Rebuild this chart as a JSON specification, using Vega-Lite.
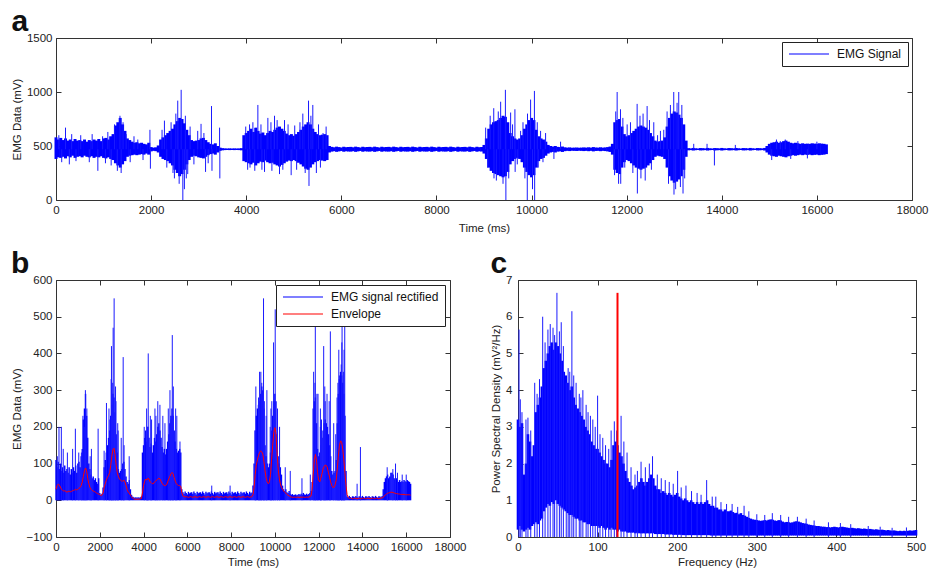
{
"$schema": "https://vega.github.io/schema/vega-lite/v6.json",
"background": "white",
"padding": {"left": 10, "top": 6, "right": 5, "bottom": 2},
"config": {
  "font": "Liberation Sans",
  "view": {"stroke": "#333333", "strokeWidth": 1},
  "axis": {"grid": false, "domain": false, "ticks": true, "tickSize": -5, "tickColor": "#333333", "tickWidth": 1, "labelFontSize": 11.5, "labelColor": "#222222", "labelPadding": 9, "labelOverlap": false, "labelFlush": false, "titleFontSize": 11.5, "titleFontWeight": "normal", "titleColor": "#222222", "titlePadding": 4},
  "title": {"fontSize": 30, "fontWeight": "bold", "anchor": "start", "frame": "bounds", "color": "#111111", "font": "Liberation Sans", "offset": -5},
  "legend": {"orient": "top-right", "offset": 4, "strokeColor": "#222222", "fillColor": "white", "padding": 6, "labelFontSize": 12, "labelColor": "#111111", "symbolType": "M-1,0H7", "symbolSize": 100, "symbolStrokeWidth": 1.2, "rowPadding": 5, "labelLimit": 300, "labelOffset": 37, "cornerRadius": 0}
},
"datasets": {
"sig": [
{"t":0,"lo":380,"hi":580,"r":110,"e":30},
{"t":50,"lo":395,"hi":560,"r":90,"e":40},
{"t":100,"lo":390,"hi":575,"r":105,"e":44},
{"t":150,"lo":400,"hi":555,"r":85,"e":42},
{"t":200,"lo":385,"hi":570,"r":100,"e":36},
{"t":250,"lo":405,"hi":550,"r":80,"e":30},
{"t":300,"lo":395,"hi":560,"r":90,"e":27},
{"t":350,"lo":410,"hi":545,"r":75,"e":25},
{"t":400,"lo":390,"hi":565,"r":95,"e":26},
{"t":450,"lo":400,"hi":550,"r":80,"e":24},
{"t":500,"lo":405,"hi":555,"r":85,"e":22},
{"t":550,"lo":395,"hi":545,"r":75,"e":24},
{"t":600,"lo":410,"hi":560,"r":90,"e":25},
{"t":650,"lo":400,"hi":540,"r":70,"e":23},
{"t":700,"lo":395,"hi":555,"r":85,"e":24},
{"t":750,"lo":405,"hi":545,"r":75,"e":26},
{"t":800,"lo":390,"hi":560,"r":90,"e":27},
{"t":850,"lo":400,"hi":550,"r":80,"e":28},
{"t":900,"lo":395,"hi":565,"r":95,"e":30},
{"t":950,"lo":405,"hi":545,"r":75,"e":28},
{"t":1000,"lo":390,"hi":570,"r":100,"e":30},
{"t":1050,"lo":385,"hi":575,"r":105,"e":33},
{"t":1100,"lo":395,"hi":560,"r":90,"e":35},
{"t":1150,"lo":380,"hi":590,"r":120,"e":40},
{"t":1200,"lo":370,"hi":610,"r":140,"e":50},
{"t":1250,"lo":340,"hi":690,"r":220,"e":65},
{"t":1300,"lo":320,"hi":720,"r":250,"e":80},
{"t":1350,"lo":300,"hi":760,"r":290,"e":88},
{"t":1400,"lo":330,"hi":700,"r":230,"e":80},
{"t":1450,"lo":360,"hi":640,"r":170,"e":60},
{"t":1500,"lo":400,"hi":570,"r":100,"e":45},
{"t":1550,"lo":410,"hi":555,"r":85,"e":35},
{"t":1600,"lo":415,"hi":540,"r":70,"e":30},
{"t":1650,"lo":420,"hi":530,"r":60,"e":27},
{"t":1700,"lo":415,"hi":535,"r":65,"e":25},
{"t":1750,"lo":420,"hi":525,"r":55,"e":24},
{"t":1800,"lo":425,"hi":530,"r":60,"e":22},
{"t":1850,"lo":420,"hi":520,"r":50,"e":20},
{"t":1900,"lo":430,"hi":515,"r":45,"e":18},
{"t":1950,"lo":420,"hi":530,"r":60,"e":17},
{"t":2000,"lo":450,"hi":490,"r":20,"e":15},
{"t":2050,"lo":455,"hi":485,"r":15,"e":13},
{"t":2100,"lo":452,"hi":488,"r":18,"e":14},
{"t":2150,"lo":440,"hi":505,"r":35,"e":20},
{"t":2200,"lo":400,"hi":560,"r":90,"e":35},
{"t":2250,"lo":380,"hi":580,"r":110,"e":45},
{"t":2300,"lo":370,"hi":600,"r":130,"e":55},
{"t":2350,"lo":360,"hi":620,"r":150,"e":62},
{"t":2400,"lo":340,"hi":640,"r":170,"e":68},
{"t":2450,"lo":320,"hi":660,"r":190,"e":75},
{"t":2500,"lo":280,"hi":700,"r":230,"e":95},
{"t":2550,"lo":250,"hi":730,"r":260,"e":120},
{"t":2600,"lo":220,"hi":760,"r":290,"e":138},
{"t":2650,"lo":240,"hi":750,"r":280,"e":142},
{"t":2700,"lo":280,"hi":710,"r":240,"e":125},
{"t":2750,"lo":330,"hi":650,"r":180,"e":95},
{"t":2800,"lo":370,"hi":600,"r":130,"e":75},
{"t":2850,"lo":400,"hi":555,"r":85,"e":65},
{"t":2900,"lo":410,"hi":545,"r":75,"e":58},
{"t":2950,"lo":405,"hi":550,"r":80,"e":55},
{"t":3000,"lo":395,"hi":555,"r":85,"e":52},
{"t":3050,"lo":390,"hi":570,"r":100,"e":52},
{"t":3100,"lo":385,"hi":575,"r":105,"e":55},
{"t":3150,"lo":400,"hi":555,"r":85,"e":50},
{"t":3200,"lo":415,"hi":535,"r":65,"e":40},
{"t":3250,"lo":425,"hi":520,"r":50,"e":30},
{"t":3300,"lo":430,"hi":515,"r":45,"e":22},
{"t":3350,"lo":420,"hi":525,"r":55,"e":20},
{"t":3400,"lo":440,"hi":500,"r":30,"e":14},
{"t":3450,"lo":455,"hi":485,"r":15,"e":10},
{"t":3500,"lo":460,"hi":480,"r":10,"e":6},
{"t":3550,"lo":462,"hi":478,"r":8,"e":4},
{"t":3600,"lo":463,"hi":477,"r":7,"e":3},
{"t":3650,"lo":462,"hi":478,"r":8,"e":3},
{"t":3700,"lo":463,"hi":477,"r":7,"e":3},
{"t":3750,"lo":462,"hi":478,"r":8,"e":3},
{"t":3800,"lo":463,"hi":477,"r":7,"e":3},
{"t":3850,"lo":462,"hi":478,"r":8,"e":4},
{"t":3900,"lo":460,"hi":480,"r":10,"e":5},
{"t":3950,"lo":360,"hi":600,"r":130,"e":20},
{"t":4000,"lo":350,"hi":620,"r":150,"e":40},
{"t":4050,"lo":340,"hi":640,"r":170,"e":52},
{"t":4100,"lo":330,"hi":660,"r":190,"e":58},
{"t":4150,"lo":345,"hi":630,"r":160,"e":55},
{"t":4200,"lo":320,"hi":670,"r":200,"e":60},
{"t":4250,"lo":340,"hi":640,"r":170,"e":58},
{"t":4300,"lo":355,"hi":615,"r":145,"e":50},
{"t":4350,"lo":350,"hi":625,"r":155,"e":48},
{"t":4400,"lo":365,"hi":600,"r":130,"e":45},
{"t":4450,"lo":350,"hi":620,"r":150,"e":45},
{"t":4500,"lo":340,"hi":640,"r":170,"e":50},
{"t":4550,"lo":345,"hi":630,"r":160,"e":52},
{"t":4600,"lo":330,"hi":650,"r":180,"e":55},
{"t":4650,"lo":320,"hi":670,"r":200,"e":58},
{"t":4700,"lo":310,"hi":680,"r":210,"e":60},
{"t":4750,"lo":325,"hi":660,"r":190,"e":58},
{"t":4800,"lo":340,"hi":640,"r":170,"e":52},
{"t":4850,"lo":355,"hi":615,"r":145,"e":46},
{"t":4900,"lo":365,"hi":600,"r":130,"e":42},
{"t":4950,"lo":360,"hi":610,"r":140,"e":40},
{"t":5000,"lo":370,"hi":595,"r":125,"e":40},
{"t":5050,"lo":360,"hi":610,"r":140,"e":42},
{"t":5100,"lo":345,"hi":630,"r":160,"e":50},
{"t":5150,"lo":330,"hi":650,"r":180,"e":58},
{"t":5200,"lo":310,"hi":680,"r":210,"e":65},
{"t":5250,"lo":290,"hi":700,"r":230,"e":72},
{"t":5300,"lo":280,"hi":720,"r":250,"e":76},
{"t":5350,"lo":300,"hi":700,"r":230,"e":72},
{"t":5400,"lo":330,"hi":660,"r":190,"e":62},
{"t":5450,"lo":350,"hi":630,"r":160,"e":52},
{"t":5500,"lo":360,"hi":610,"r":140,"e":45},
{"t":5550,"lo":370,"hi":600,"r":130,"e":42},
{"t":5600,"lo":365,"hi":605,"r":135,"e":40},
{"t":5650,"lo":360,"hi":610,"r":140,"e":40},
{"t":5700,"lo":370,"hi":600,"r":130,"e":38},
{"t":5750,"lo":440,"hi":500,"r":30,"e":20},
{"t":5800,"lo":448,"hi":492,"r":22,"e":12},
{"t":5850,"lo":452,"hi":488,"r":18,"e":10},
{"t":5900,"lo":446,"hi":494,"r":24,"e":9},
{"t":5950,"lo":450,"hi":490,"r":20,"e":10},
{"t":6000,"lo":454,"hi":486,"r":16,"e":9},
{"t":6050,"lo":447,"hi":493,"r":23,"e":8},
{"t":6100,"lo":451,"hi":489,"r":19,"e":9},
{"t":6150,"lo":449,"hi":491,"r":21,"e":10},
{"t":6200,"lo":448,"hi":492,"r":22,"e":9},
{"t":6250,"lo":452,"hi":488,"r":18,"e":8},
{"t":6300,"lo":446,"hi":494,"r":24,"e":9},
{"t":6350,"lo":450,"hi":490,"r":20,"e":10},
{"t":6400,"lo":454,"hi":486,"r":16,"e":9},
{"t":6450,"lo":447,"hi":493,"r":23,"e":8},
{"t":6500,"lo":451,"hi":489,"r":19,"e":9},
{"t":6550,"lo":449,"hi":491,"r":21,"e":10},
{"t":6600,"lo":448,"hi":492,"r":22,"e":9},
{"t":6650,"lo":452,"hi":488,"r":18,"e":8},
{"t":6700,"lo":446,"hi":494,"r":24,"e":9},
{"t":6750,"lo":450,"hi":490,"r":20,"e":10},
{"t":6800,"lo":454,"hi":486,"r":16,"e":9},
{"t":6850,"lo":447,"hi":493,"r":23,"e":8},
{"t":6900,"lo":451,"hi":489,"r":19,"e":9},
{"t":6950,"lo":449,"hi":491,"r":21,"e":10},
{"t":7000,"lo":448,"hi":492,"r":22,"e":9},
{"t":7050,"lo":452,"hi":488,"r":18,"e":8},
{"t":7100,"lo":446,"hi":494,"r":24,"e":9},
{"t":7150,"lo":450,"hi":490,"r":20,"e":10},
{"t":7200,"lo":454,"hi":486,"r":16,"e":9},
{"t":7250,"lo":447,"hi":493,"r":23,"e":8},
{"t":7300,"lo":451,"hi":489,"r":19,"e":9},
{"t":7350,"lo":449,"hi":491,"r":21,"e":10},
{"t":7400,"lo":448,"hi":492,"r":22,"e":9},
{"t":7450,"lo":452,"hi":488,"r":18,"e":8},
{"t":7500,"lo":446,"hi":494,"r":24,"e":9},
{"t":7550,"lo":450,"hi":490,"r":20,"e":10},
{"t":7600,"lo":454,"hi":486,"r":16,"e":9},
{"t":7650,"lo":447,"hi":493,"r":23,"e":8},
{"t":7700,"lo":451,"hi":489,"r":19,"e":9},
{"t":7750,"lo":449,"hi":491,"r":21,"e":10},
{"t":7800,"lo":448,"hi":492,"r":22,"e":9},
{"t":7850,"lo":452,"hi":488,"r":18,"e":8},
{"t":7900,"lo":446,"hi":494,"r":24,"e":9},
{"t":7950,"lo":450,"hi":490,"r":20,"e":10},
{"t":8000,"lo":454,"hi":486,"r":16,"e":9},
{"t":8050,"lo":447,"hi":493,"r":23,"e":8},
{"t":8100,"lo":451,"hi":489,"r":19,"e":9},
{"t":8150,"lo":449,"hi":491,"r":21,"e":10},
{"t":8200,"lo":448,"hi":492,"r":22,"e":9},
{"t":8250,"lo":452,"hi":488,"r":18,"e":8},
{"t":8300,"lo":446,"hi":494,"r":24,"e":9},
{"t":8350,"lo":450,"hi":490,"r":20,"e":10},
{"t":8400,"lo":454,"hi":486,"r":16,"e":9},
{"t":8450,"lo":447,"hi":493,"r":23,"e":8},
{"t":8500,"lo":451,"hi":489,"r":19,"e":9},
{"t":8550,"lo":449,"hi":491,"r":21,"e":10},
{"t":8600,"lo":448,"hi":492,"r":22,"e":9},
{"t":8650,"lo":452,"hi":488,"r":18,"e":8},
{"t":8700,"lo":446,"hi":494,"r":24,"e":9},
{"t":8750,"lo":450,"hi":490,"r":20,"e":10},
{"t":8800,"lo":454,"hi":486,"r":16,"e":9},
{"t":8850,"lo":447,"hi":493,"r":23,"e":8},
{"t":8900,"lo":451,"hi":489,"r":19,"e":9},
{"t":8950,"lo":449,"hi":491,"r":21,"e":10},
{"t":9000,"lo":430,"hi":510,"r":40,"e":15},
{"t":9050,"lo":380,"hi":570,"r":100,"e":35},
{"t":9100,"lo":300,"hi":660,"r":190,"e":70},
{"t":9150,"lo":270,"hi":700,"r":230,"e":95},
{"t":9200,"lo":250,"hi":720,"r":250,"e":110},
{"t":9250,"lo":240,"hi":730,"r":260,"e":122},
{"t":9300,"lo":230,"hi":740,"r":270,"e":130},
{"t":9350,"lo":220,"hi":760,"r":290,"e":135},
{"t":9400,"lo":210,"hi":780,"r":310,"e":132},
{"t":9450,"lo":220,"hi":770,"r":300,"e":125},
{"t":9500,"lo":260,"hi":720,"r":250,"e":105},
{"t":9550,"lo":330,"hi":620,"r":150,"e":80},
{"t":9600,"lo":360,"hi":590,"r":120,"e":60},
{"t":9650,"lo":380,"hi":570,"r":100,"e":50},
{"t":9700,"lo":390,"hi":560,"r":90,"e":45},
{"t":9750,"lo":380,"hi":570,"r":100,"e":50},
{"t":9800,"lo":350,"hi":600,"r":130,"e":70},
{"t":9850,"lo":300,"hi":660,"r":190,"e":110},
{"t":9900,"lo":260,"hi":700,"r":230,"e":150},
{"t":9950,"lo":230,"hi":740,"r":270,"e":185},
{"t":10000,"lo":210,"hi":760,"r":290,"e":198},
{"t":10050,"lo":230,"hi":740,"r":270,"e":180},
{"t":10100,"lo":300,"hi":650,"r":180,"e":130},
{"t":10150,"lo":360,"hi":590,"r":120,"e":85},
{"t":10200,"lo":380,"hi":570,"r":100,"e":60},
{"t":10250,"lo":390,"hi":560,"r":90,"e":45},
{"t":10300,"lo":410,"hi":540,"r":70,"e":35},
{"t":10350,"lo":430,"hi":510,"r":40,"e":30},
{"t":10400,"lo":440,"hi":500,"r":30,"e":25},
{"t":10450,"lo":445,"hi":495,"r":25,"e":22},
{"t":10500,"lo":440,"hi":500,"r":30,"e":20},
{"t":10550,"lo":448,"hi":492,"r":22,"e":16},
{"t":10600,"lo":450,"hi":490,"r":20,"e":14},
{"t":10650,"lo":445,"hi":495,"r":25,"e":12},
{"t":10700,"lo":452,"hi":488,"r":18,"e":10},
{"t":10750,"lo":455,"hi":485,"r":15,"e":9},
{"t":10800,"lo":453,"hi":487,"r":17,"e":8},
{"t":10850,"lo":456,"hi":484,"r":14,"e":8},
{"t":10900,"lo":455,"hi":485,"r":15,"e":9},
{"t":10950,"lo":454,"hi":486,"r":16,"e":8},
{"t":11000,"lo":456,"hi":484,"r":14,"e":8},
{"t":11050,"lo":455,"hi":485,"r":15,"e":9},
{"t":11100,"lo":453,"hi":487,"r":17,"e":8},
{"t":11150,"lo":455,"hi":485,"r":15,"e":8},
{"t":11200,"lo":452,"hi":488,"r":18,"e":9},
{"t":11250,"lo":455,"hi":485,"r":15,"e":8},
{"t":11300,"lo":450,"hi":490,"r":20,"e":9},
{"t":11350,"lo":454,"hi":486,"r":16,"e":8},
{"t":11400,"lo":455,"hi":485,"r":15,"e":8},
{"t":11450,"lo":452,"hi":488,"r":18,"e":9},
{"t":11500,"lo":455,"hi":485,"r":15,"e":8},
{"t":11550,"lo":453,"hi":487,"r":17,"e":9},
{"t":11600,"lo":450,"hi":490,"r":20,"e":10},
{"t":11650,"lo":445,"hi":495,"r":25,"e":12},
{"t":11700,"lo":420,"hi":520,"r":50,"e":30},
{"t":11750,"lo":280,"hi":720,"r":250,"e":70},
{"t":11800,"lo":250,"hi":740,"r":270,"e":110},
{"t":11850,"lo":240,"hi":750,"r":280,"e":125},
{"t":11900,"lo":300,"hi":680,"r":210,"e":110},
{"t":11950,"lo":350,"hi":610,"r":140,"e":75},
{"t":12000,"lo":370,"hi":590,"r":120,"e":55},
{"t":12050,"lo":360,"hi":600,"r":130,"e":50},
{"t":12100,"lo":340,"hi":620,"r":150,"e":60},
{"t":12150,"lo":320,"hi":640,"r":170,"e":72},
{"t":12200,"lo":300,"hi":660,"r":190,"e":85},
{"t":12250,"lo":290,"hi":680,"r":210,"e":92},
{"t":12300,"lo":280,"hi":690,"r":220,"e":96},
{"t":12350,"lo":290,"hi":680,"r":210,"e":95},
{"t":12400,"lo":300,"hi":670,"r":200,"e":88},
{"t":12450,"lo":320,"hi":650,"r":180,"e":75},
{"t":12500,"lo":340,"hi":620,"r":150,"e":62},
{"t":12550,"lo":370,"hi":590,"r":120,"e":50},
{"t":12600,"lo":400,"hi":550,"r":80,"e":40},
{"t":12650,"lo":410,"hi":540,"r":70,"e":35},
{"t":12700,"lo":405,"hi":545,"r":75,"e":35},
{"t":12750,"lo":400,"hi":550,"r":80,"e":42},
{"t":12800,"lo":380,"hi":580,"r":110,"e":55},
{"t":12850,"lo":300,"hi":680,"r":210,"e":85},
{"t":12900,"lo":220,"hi":760,"r":290,"e":120},
{"t":12950,"lo":180,"hi":800,"r":330,"e":150},
{"t":13000,"lo":160,"hi":820,"r":350,"e":162},
{"t":13050,"lo":170,"hi":810,"r":340,"e":158},
{"t":13100,"lo":190,"hi":790,"r":320,"e":140},
{"t":13150,"lo":220,"hi":760,"r":290,"e":110},
{"t":13200,"lo":280,"hi":700,"r":230,"e":75},
{"t":13250,"lo":400,"hi":550,"r":80,"e":40},
{"t":13300,"lo":460,"hi":480,"r":10,"e":15},
{"t":13350,"lo":462,"hi":478,"r":8,"e":8},
{"t":13400,"lo":458,"hi":482,"r":12,"e":5},
{"t":13450,"lo":461,"hi":479,"r":9,"e":6},
{"t":13500,"lo":463,"hi":477,"r":7,"e":5},
{"t":13550,"lo":459,"hi":481,"r":11,"e":4},
{"t":13600,"lo":460,"hi":480,"r":10,"e":5},
{"t":13650,"lo":462,"hi":478,"r":8,"e":6},
{"t":13700,"lo":458,"hi":482,"r":12,"e":5},
{"t":13750,"lo":461,"hi":479,"r":9,"e":4},
{"t":13800,"lo":463,"hi":477,"r":7,"e":5},
{"t":13850,"lo":459,"hi":481,"r":11,"e":6},
{"t":13900,"lo":460,"hi":480,"r":10,"e":5},
{"t":13950,"lo":462,"hi":478,"r":8,"e":4},
{"t":14000,"lo":458,"hi":482,"r":12,"e":5},
{"t":14050,"lo":461,"hi":479,"r":9,"e":6},
{"t":14100,"lo":463,"hi":477,"r":7,"e":5},
{"t":14150,"lo":459,"hi":481,"r":11,"e":4},
{"t":14200,"lo":460,"hi":480,"r":10,"e":5},
{"t":14250,"lo":462,"hi":478,"r":8,"e":6},
{"t":14300,"lo":458,"hi":482,"r":12,"e":5},
{"t":14350,"lo":461,"hi":479,"r":9,"e":4},
{"t":14400,"lo":463,"hi":477,"r":7,"e":5},
{"t":14450,"lo":459,"hi":481,"r":11,"e":6},
{"t":14500,"lo":460,"hi":480,"r":10,"e":5},
{"t":14550,"lo":462,"hi":478,"r":8,"e":4},
{"t":14600,"lo":458,"hi":482,"r":12,"e":5},
{"t":14650,"lo":461,"hi":479,"r":9,"e":6},
{"t":14700,"lo":463,"hi":477,"r":7,"e":5},
{"t":14750,"lo":459,"hi":481,"r":11,"e":4},
{"t":14800,"lo":460,"hi":480,"r":10,"e":5},
{"t":14850,"lo":462,"hi":478,"r":8,"e":6},
{"t":14900,"lo":458,"hi":482,"r":12,"e":7},
{"t":14950,"lo":440,"hi":500,"r":30,"e":8},
{"t":15000,"lo":420,"hi":520,"r":50,"e":12},
{"t":15050,"lo":410,"hi":530,"r":60,"e":15},
{"t":15100,"lo":405,"hi":535,"r":65,"e":17},
{"t":15150,"lo":400,"hi":540,"r":70,"e":19},
{"t":15200,"lo":410,"hi":530,"r":60,"e":20},
{"t":15250,"lo":405,"hi":535,"r":65,"e":21},
{"t":15300,"lo":400,"hi":545,"r":75,"e":22},
{"t":15350,"lo":395,"hi":550,"r":75,"e":22},
{"t":15400,"lo":405,"hi":540,"r":70,"e":21},
{"t":15450,"lo":410,"hi":530,"r":60,"e":20},
{"t":15500,"lo":415,"hi":525,"r":55,"e":19},
{"t":15550,"lo":410,"hi":530,"r":60,"e":18},
{"t":15600,"lo":415,"hi":525,"r":55,"e":18},
{"t":15650,"lo":420,"hi":520,"r":50,"e":17},
{"t":15700,"lo":415,"hi":525,"r":55,"e":17},
{"t":15750,"lo":420,"hi":520,"r":50,"e":16},
{"t":15800,"lo":418,"hi":522,"r":52,"e":16},
{"t":15850,"lo":420,"hi":520,"r":50,"e":16},
{"t":15900,"lo":415,"hi":525,"r":55,"e":16},
{"t":15950,"lo":418,"hi":522,"r":52,"e":15},
{"t":16000,"lo":420,"hi":520,"r":50,"e":15},
{"t":16050,"lo":415,"hi":525,"r":55,"e":15},
{"t":16100,"lo":418,"hi":522,"r":52,"e":15},
{"t":16150,"lo":420,"hi":520,"r":50,"e":15},
{"t":16200,"lo":425,"hi":515,"r":45,"e":14}
],
"spA": [
{"t":200,"v":670},{"t":280,"v":330},{"t":880,"v":270},{"t":1090,"v":630},{"t":1160,"v":320},{"t":1345,"v":780},{"t":1370,"v":250},{"t":1475,"v":610},{"t":1720,"v":560},{"t":1975,"v":650},{"t":1985,"v":290},{"t":2280,"v":735},{"t":2490,"v":200},{"t":2560,"v":920},{"t":2632,"v":1020},{"t":2667,"v":0},{"t":2700,"v":100},{"t":2770,"v":240},{"t":3050,"v":705},{"t":3145,"v":260},{"t":3270,"v":870},{"t":3280,"v":270},{"t":3440,"v":670},{"t":3445,"v":200},{"t":4070,"v":700},{"t":4080,"v":300},{"t":4245,"v":880},{"t":4385,"v":260},{"t":4455,"v":760},{"t":4595,"v":780},{"t":4700,"v":240},{"t":4805,"v":740},{"t":4945,"v":230},{"t":5190,"v":800},{"t":5310,"v":920},{"t":5320,"v":130},{"t":5400,"v":880},{"t":5475,"v":250},{"t":5615,"v":620},{"t":9035,"v":670},{"t":9205,"v":850},{"t":9210,"v":200},{"t":9350,"v":910},{"t":9450,"v":1020},{"t":9460,"v":0},{"t":9560,"v":810},{"t":9650,"v":840},{"t":9655,"v":260},{"t":9770,"v":640},{"t":9910,"v":0},{"t":9915,"v":800},{"t":9980,"v":930},{"t":10060,"v":1010},{"t":10065,"v":0},{"t":10190,"v":640},{"t":10295,"v":620},{"t":10470,"v":380},{"t":10610,"v":540},{"t":11745,"v":230},{"t":11800,"v":1000},{"t":11870,"v":840},{"t":11875,"v":150},{"t":12010,"v":700},{"t":12220,"v":890},{"t":12225,"v":60},{"t":12345,"v":800},{"t":12430,"v":870},{"t":12570,"v":720},{"t":12710,"v":640},{"t":12850,"v":820},{"t":12990,"v":1000},{"t":12995,"v":50},{"t":13095,"v":1000},{"t":13185,"v":60},{"t":13410,"v":520},{"t":13690,"v":520},{"t":13845,"v":320},{"t":14285,"v":510},{"t":15230,"v":545},{"t":15335,"v":560},
{"t":60,"v":600},{"t":120,"v":350},{"t":330,"v":610},{"t":420,"v":360},{"t":520,"v":600},{"t":700,"v":350},{"t":760,"v":610},{"t":980,"v":590},{"t":1040,"v":340},{"t":1230,"v":700},{"t":1290,"v":270},{"t":1410,"v":720},{"t":1560,"v":350},{"t":1640,"v":590},{"t":1830,"v":370},
{"t":2230,"v":650},{"t":2330,"v":300},{"t":2420,"v":720},{"t":2460,"v":250},{"t":2520,"v":800},{"t":2590,"v":150},{"t":2720,"v":780},{"t":2740,"v":200},{"t":2820,"v":680},{"t":2900,"v":330},{"t":2980,"v":640},{"t":3110,"v":620},{"t":3200,"v":340},
{"t":3990,"v":680},{"t":4030,"v":280},{"t":4140,"v":720},{"t":4180,"v":270},{"t":4310,"v":700},{"t":4330,"v":280},{"t":4520,"v":720},{"t":4540,"v":270},{"t":4650,"v":740},{"t":4770,"v":280},{"t":4880,"v":700},{"t":5020,"v":690},{"t":5060,"v":280},{"t":5130,"v":720},{"t":5240,"v":250},{"t":5360,"v":780},{"t":5520,"v":700},{"t":5560,"v":300},{"t":5680,"v":680},
{"t":9080,"v":300},{"t":9130,"v":780},{"t":9260,"v":180},{"t":9300,"v":820},{"t":9400,"v":150},{"t":9520,"v":200},{"t":9600,"v":700},{"t":9700,"v":330},{"t":9820,"v":720},{"t":9860,"v":200},{"t":10020,"v":100},{"t":10120,"v":720},{"t":10140,"v":300},{"t":10240,"v":350},
{"t":11770,"v":820},{"t":11830,"v":150},{"t":11920,"v":760},{"t":11960,"v":300},{"t":12080,"v":720},{"t":12130,"v":250},{"t":12280,"v":780},{"t":12300,"v":200},{"t":12390,"v":180},{"t":12480,"v":740},{"t":12520,"v":280},{"t":12650,"v":600},{"t":12780,"v":650},{"t":12880,"v":150},{"t":12920,"v":880},{"t":13030,"v":100},{"t":13060,"v":900},{"t":13130,"v":120},{"t":13160,"v":880},{"t":13220,"v":200},
{"t":15050,"v":370},{"t":15150,"v":560},{"t":15450,"v":380},{"t":15600,"v":545},{"t":15800,"v":385},{"t":16000,"v":540}
],
"spB": [
{"t":60,"r":120},{"t":137,"r":200},{"t":244,"r":200},{"t":885,"r":195},{"t":1160,"r":130},{"t":1343,"r":300},{"t":1618,"r":140},{"t":1924,"r":195},{"t":2198,"r":135},{"t":2305,"r":265},{"t":2534,"r":420},{"t":2611,"r":470},{"t":2656,"r":550},{"t":2840,"r":190},{"t":3069,"r":390},{"t":3344,"r":120},{"t":4031,"r":200},{"t":4214,"r":400},{"t":4366,"r":220},{"t":4565,"r":230},{"t":4748,"r":260},{"t":4977,"r":210},{"t":5206,"r":300},{"t":5313,"r":450},{"t":5466,"r":250},{"t":5664,"r":160},{"t":7115,"r":40},{"t":7954,"r":40},{"t":9099,"r":190},{"t":9252,"r":280},{"t":9359,"r":350},{"t":9481,"r":550},{"t":9634,"r":300},{"t":9786,"r":200},{"t":9939,"r":430},{"t":10015,"r":520},{"t":10214,"r":200},{"t":10473,"r":90},{"t":10702,"r":80},{"t":11237,"r":60},{"t":11618,"r":70},{"t":11847,"r":480},{"t":11969,"r":290},{"t":12076,"r":200},{"t":12229,"r":420},{"t":12382,"r":290},{"t":12534,"r":460},{"t":12687,"r":210},{"t":12840,"r":280},{"t":12947,"r":340},{"t":13069,"r":520},{"t":13191,"r":520},{"t":13756,"r":45},{"t":13908,"r":145},{"t":15130,"r":90},{"t":15389,"r":85},{"t":15511,"r":100},{"t":15817,"r":70},
{"t":330,"r":140},{"t":520,"r":130},{"t":760,"r":140},{"t":1040,"r":130},{"t":1230,"r":230},{"t":1290,"r":200},{"t":1410,"r":250},{"t":1560,"r":120},{"t":2420,"r":250},{"t":2460,"r":220},{"t":2520,"r":330},{"t":2590,"r":320},{"t":2720,"r":310},{"t":2740,"r":270},{"t":2820,"r":210},{"t":2980,"r":170},{"t":3110,"r":150},{"t":4140,"r":250},{"t":4180,"r":200},{"t":4310,"r":230},{"t":4520,"r":250},{"t":4650,"r":270},{"t":4880,"r":230},{"t":5130,"r":250},{"t":5240,"r":220},{"t":5360,"r":310},{"t":5520,"r":230},{"t":9130,"r":310},{"t":9300,"r":350},{"t":9400,"r":320},{"t":9520,"r":270},{"t":9600,"r":230},{"t":9820,"r":250},{"t":9860,"r":270},{"t":10120,"r":250},{"t":11770,"r":350},{"t":11830,"r":320},{"t":11920,"r":290},{"t":12080,"r":250},{"t":12130,"r":220},{"t":12280,"r":310},{"t":12300,"r":270},{"t":12480,"r":270},{"t":12780,"r":180},{"t":12880,"r":320},{"t":12920,"r":410},{"t":13030,"r":370},{"t":13060,"r":430},{"t":13130,"r":350},{"t":13160,"r":410},{"t":15150,"r":60},{"t":15600,"r":75},{"t":16000,"r":70}
],
"psd": [
{"f":0,"lo":0.2,"hi":3.2},{"f":2.5,"lo":0.3,"hi":3.0},{"f":5,"lo":0.2,"hi":3.1},{"f":7.5,"lo":0.15,"hi":1.7},{"f":10,"lo":0.2,"hi":2.0},{"f":12.5,"lo":0.25,"hi":2.8},{"f":15,"lo":0.2,"hi":2.6},{"f":17.5,"lo":0.3,"hi":2.2},{"f":20,"lo":0.35,"hi":2.5},{"f":22.5,"lo":0.4,"hi":3.4},{"f":25,"lo":0.35,"hi":3.6},{"f":27.5,"lo":0.45,"hi":3.8},{"f":30,"lo":0.5,"hi":4.1},{"f":32.5,"lo":0.7,"hi":4.6},{"f":35,"lo":0.8,"hi":4.8},{"f":37.5,"lo":0.9,"hi":5.0},{"f":40,"lo":0.85,"hi":5.2},{"f":42.5,"lo":0.95,"hi":5.3},{"f":45,"lo":0.9,"hi":5.1},{"f":47.5,"lo":1.0,"hi":5.3},{"f":50,"lo":0.9,"hi":5.2},{"f":52.5,"lo":0.85,"hi":5.0},{"f":55,"lo":0.8,"hi":4.8},{"f":57.5,"lo":0.75,"hi":4.5},{"f":60,"lo":0.7,"hi":4.4},{"f":62.5,"lo":0.65,"hi":4.2},{"f":65,"lo":0.6,"hi":4.0},{"f":67.5,"lo":0.6,"hi":4.1},{"f":70,"lo":0.55,"hi":3.8},{"f":72.5,"lo":0.5,"hi":3.6},{"f":75,"lo":0.5,"hi":3.5},{"f":77.5,"lo":0.45,"hi":3.4},{"f":80,"lo":0.45,"hi":3.3},{"f":82.5,"lo":0.4,"hi":3.2},{"f":85,"lo":0.4,"hi":3.0},{"f":87.5,"lo":0.35,"hi":2.9},{"f":90,"lo":0.35,"hi":2.8},{"f":92.5,"lo":0.3,"hi":2.6},{"f":95,"lo":0.3,"hi":2.5},{"f":97.5,"lo":0.3,"hi":2.4},{"f":100,"lo":0.3,"hi":2.4},{"f":102.5,"lo":0.25,"hi":2.3},{"f":105,"lo":0.3,"hi":2.2},{"f":107.5,"lo":0.25,"hi":2.1},{"f":110,"lo":0.2,"hi":2.0},{"f":112.5,"lo":0.25,"hi":2.0},{"f":115,"lo":0.2,"hi":1.9},{"f":117.5,"lo":0.25,"hi":2.1},{"f":120,"lo":0.2,"hi":2.5},{"f":122.5,"lo":0.2,"hi":2.6},{"f":125,"lo":0.15,"hi":2.5},{"f":127.5,"lo":0.2,"hi":2.3},{"f":130,"lo":0.15,"hi":2.2},{"f":132.5,"lo":0.15,"hi":2.0},{"f":135,"lo":0.15,"hi":1.8},{"f":137.5,"lo":0.12,"hi":1.6},{"f":140,"lo":0.12,"hi":1.5},{"f":142.5,"lo":0.12,"hi":1.4},{"f":145,"lo":0.12,"hi":1.3},{"f":147.5,"lo":0.1,"hi":1.35},{"f":150,"lo":0.12,"hi":1.4},{"f":152.5,"lo":0.1,"hi":1.5},{"f":155,"lo":0.1,"hi":1.6},{"f":157.5,"lo":0.1,"hi":1.5},{"f":160,"lo":0.1,"hi":1.4},{"f":162.5,"lo":0.1,"hi":1.5},{"f":165,"lo":0.1,"hi":1.6},{"f":167.5,"lo":0.1,"hi":1.7},{"f":170,"lo":0.1,"hi":1.6},{"f":172.5,"lo":0.08,"hi":1.4},{"f":175,"lo":0.08,"hi":1.3},{"f":177.5,"lo":0.08,"hi":1.3},{"f":180,"lo":0.08,"hi":1.2},{"f":182.5,"lo":0.08,"hi":1.25},{"f":185,"lo":0.07,"hi":1.2},{"f":187.5,"lo":0.07,"hi":1.15},{"f":190,"lo":0.07,"hi":1.2},{"f":192.5,"lo":0.07,"hi":1.15},{"f":195,"lo":0.06,"hi":1.1},{"f":197.5,"lo":0.06,"hi":1.15},{"f":200,"lo":0.06,"hi":1.2},{"f":202.5,"lo":0.06,"hi":1.1},{"f":205,"lo":0.06,"hi":1.05},{"f":207.5,"lo":0.05,"hi":1.0},{"f":210,"lo":0.05,"hi":1.05},{"f":212.5,"lo":0.05,"hi":1.0},{"f":215,"lo":0.05,"hi":0.95},{"f":217.5,"lo":0.05,"hi":1.0},{"f":220,"lo":0.05,"hi":0.95},{"f":222.5,"lo":0.05,"hi":0.9},{"f":225,"lo":0.05,"hi":0.95},{"f":227.5,"lo":0.05,"hi":0.9},{"f":230,"lo":0.05,"hi":0.95},{"f":232.5,"lo":0.05,"hi":0.9},{"f":235,"lo":0.05,"hi":0.95},{"f":237.5,"lo":0.05,"hi":1.0},{"f":240,"lo":0.05,"hi":0.9},{"f":242.5,"lo":0.04,"hi":0.85},{"f":245,"lo":0.04,"hi":0.85},{"f":247.5,"lo":0.04,"hi":0.8},{"f":250,"lo":0.04,"hi":0.8},{"f":252.5,"lo":0.04,"hi":0.75},{"f":255,"lo":0.04,"hi":0.75},{"f":257.5,"lo":0.04,"hi":0.7},{"f":260,"lo":0.04,"hi":0.75},{"f":262.5,"lo":0.04,"hi":0.7},{"f":265,"lo":0.04,"hi":0.7},{"f":267.5,"lo":0.04,"hi":0.72},{"f":270,"lo":0.04,"hi":0.68},{"f":272.5,"lo":0.04,"hi":0.65},{"f":275,"lo":0.04,"hi":0.66},{"f":277.5,"lo":0.04,"hi":0.62},{"f":280,"lo":0.04,"hi":0.65},{"f":282.5,"lo":0.04,"hi":0.6},{"f":285,"lo":0.04,"hi":0.58},{"f":287.5,"lo":0.04,"hi":0.55},{"f":290,"lo":0.04,"hi":0.52},{"f":292.5,"lo":0.04,"hi":0.5},{"f":295,"lo":0.04,"hi":0.48},{"f":297.5,"lo":0.04,"hi":0.47},{"f":300,"lo":0.04,"hi":0.46},{"f":302.5,"lo":0.04,"hi":0.45},{"f":305,"lo":0.04,"hi":0.44},{"f":307.5,"lo":0.04,"hi":0.45},{"f":310,"lo":0.04,"hi":0.46},{"f":312.5,"lo":0.04,"hi":0.45},{"f":315,"lo":0.04,"hi":0.47},{"f":317.5,"lo":0.04,"hi":0.48},{"f":320,"lo":0.04,"hi":0.47},{"f":322.5,"lo":0.04,"hi":0.45},{"f":325,"lo":0.04,"hi":0.44},{"f":327.5,"lo":0.04,"hi":0.46},{"f":330,"lo":0.04,"hi":0.45},{"f":332.5,"lo":0.04,"hi":0.42},{"f":335,"lo":0.04,"hi":0.4},{"f":337.5,"lo":0.04,"hi":0.41},{"f":340,"lo":0.04,"hi":0.4},{"f":342.5,"lo":0.04,"hi":0.39},{"f":345,"lo":0.04,"hi":0.4},{"f":347.5,"lo":0.04,"hi":0.42},{"f":350,"lo":0.04,"hi":0.43},{"f":352.5,"lo":0.04,"hi":0.42},{"f":355,"lo":0.04,"hi":0.4},{"f":357.5,"lo":0.04,"hi":0.38},{"f":360,"lo":0.04,"hi":0.37},{"f":362.5,"lo":0.04,"hi":0.36},{"f":365,"lo":0.04,"hi":0.34},{"f":367.5,"lo":0.04,"hi":0.33},{"f":370,"lo":0.04,"hi":0.32},{"f":372.5,"lo":0.04,"hi":0.31},{"f":375,"lo":0.04,"hi":0.3},{"f":377.5,"lo":0.04,"hi":0.3},{"f":380,"lo":0.04,"hi":0.29},{"f":382.5,"lo":0.04,"hi":0.28},{"f":385,"lo":0.04,"hi":0.28},{"f":387.5,"lo":0.04,"hi":0.27},{"f":390,"lo":0.04,"hi":0.27},{"f":392.5,"lo":0.04,"hi":0.26},{"f":395,"lo":0.04,"hi":0.27},{"f":397.5,"lo":0.04,"hi":0.28},{"f":400,"lo":0.04,"hi":0.27},{"f":402.5,"lo":0.04,"hi":0.26},{"f":405,"lo":0.04,"hi":0.27},{"f":407.5,"lo":0.04,"hi":0.28},{"f":410,"lo":0.04,"hi":0.27},{"f":412.5,"lo":0.04,"hi":0.26},{"f":415,"lo":0.04,"hi":0.25},{"f":417.5,"lo":0.04,"hi":0.24},{"f":420,"lo":0.04,"hi":0.25},{"f":422.5,"lo":0.04,"hi":0.24},{"f":425,"lo":0.04,"hi":0.23},{"f":427.5,"lo":0.04,"hi":0.24},{"f":430,"lo":0.04,"hi":0.23},{"f":432.5,"lo":0.04,"hi":0.22},{"f":435,"lo":0.04,"hi":0.23},{"f":437.5,"lo":0.04,"hi":0.22},{"f":440,"lo":0.04,"hi":0.21},{"f":442.5,"lo":0.04,"hi":0.22},{"f":445,"lo":0.04,"hi":0.21},{"f":447.5,"lo":0.04,"hi":0.2},{"f":450,"lo":0.04,"hi":0.21},{"f":452.5,"lo":0.04,"hi":0.2},{"f":455,"lo":0.04,"hi":0.19},{"f":457.5,"lo":0.04,"hi":0.2},{"f":460,"lo":0.04,"hi":0.19},{"f":462.5,"lo":0.04,"hi":0.18},{"f":465,"lo":0.04,"hi":0.19},{"f":467.5,"lo":0.04,"hi":0.18},{"f":470,"lo":0.04,"hi":0.17},{"f":472.5,"lo":0.04,"hi":0.18},{"f":475,"lo":0.04,"hi":0.17},{"f":477.5,"lo":0.04,"hi":0.16},{"f":480,"lo":0.04,"hi":0.17},{"f":482.5,"lo":0.04,"hi":0.16},{"f":485,"lo":0.04,"hi":0.17},{"f":487.5,"lo":0.04,"hi":0.16},{"f":490,"lo":0.04,"hi":0.17},{"f":492.5,"lo":0.04,"hi":0.18},{"f":495,"lo":0.04,"hi":0.17},{"f":497.5,"lo":0.04,"hi":0.18},{"f":500,"lo":0.04,"hi":0.19}
],
"spC": [
{"f":1.3,"v":5.65},{"f":2.9,"v":3.75},{"f":10,"v":3.2},{"f":12.5,"v":3.25},{"f":21,"v":4.2},{"f":27,"v":4.3},{"f":31,"v":6.0},{"f":37.6,"v":5.65},{"f":40.5,"v":5.8},{"f":48.9,"v":6.65},{"f":54.3,"v":5.85},{"f":60.6,"v":4.2},{"f":67.7,"v":6.15},{"f":73,"v":4.2},{"f":81.5,"v":4.0},{"f":85.6,"v":3.6},{"f":94,"v":3.2},{"f":100,"v":3.85},{"f":106.5,"v":2.7},{"f":121,"v":3.15},{"f":129.5,"v":3.3},{"f":142,"v":1.9},{"f":154.6,"v":2.05},{"f":165,"v":2.0},{"f":169,"v":2.2},{"f":190,"v":1.5},{"f":200.5,"v":1.8},{"f":211,"v":1.4},{"f":237,"v":1.55},{"f":248.5,"v":1.1},{"f":269,"v":0.9},{"f":284,"v":0.85},{"f":319.5,"v":0.65},{"f":330,"v":0.6},{"f":351,"v":0.55},
{"f":5,"v":3.4},{"f":16,"v":2.9},{"f":24,"v":3.9},{"f":34,"v":5.3},{"f":44,"v":5.7},{"f":46,"v":5.5},{"f":52,"v":5.6},{"f":57,"v":5.2},{"f":63,"v":4.6},{"f":65,"v":4.5},{"f":70,"v":4.4},{"f":77,"v":3.9},{"f":79,"v":3.8},{"f":88,"v":3.4},{"f":91,"v":3.3},{"f":97,"v":3.0},{"f":103,"v":2.8},{"f":110,"v":2.5},{"f":114,"v":2.4},{"f":117,"v":2.9},{"f":124,"v":2.9},{"f":133,"v":2.6},{"f":137,"v":2.3},{"f":147,"v":1.7},{"f":150,"v":1.8},{"f":160,"v":1.9},{"f":175,"v":1.7},{"f":180,"v":1.6},{"f":185,"v":1.55},{"f":195,"v":1.45},{"f":205,"v":1.35},{"f":218,"v":1.25},{"f":225,"v":1.2},{"f":230,"v":1.15},{"f":244,"v":1.1},{"f":255,"v":0.95},{"f":262,"v":0.9},{"f":276,"v":0.82},{"f":290,"v":0.7},{"f":300,"v":0.62},{"f":310,"v":0.6},{"f":340,"v":0.55},{"f":362,"v":0.5},{"f":372,"v":0.45},{"f":390,"v":0.4},{"f":405,"v":0.38},{"f":418,"v":0.35},{"f":440,"v":0.3},{"f":455,"v":0.28},{"f":470,"v":0.25},{"f":488,"v":0.26}
],
"cut": [{"f":125,"v":6.65}]
},
"spacing": 13,
"resolve": {"scale": {"color": "independent"}},
"vconcat": [
{
  "title": {"text": "a"},
  "width": 856,
  "height": 162,
  "layer": [
    {"data": {"name": "sig"}, "mark": {"type": "rule", "strokeWidth": 3},
     "encoding": {
       "x": {"field": "t", "type": "quantitative", "scale": {"domain": [0, 18000], "nice": false}, "axis": {"orient": "bottom", "format": "d", "titlePadding": 7, "values": [0,2000,4000,6000,8000,10000,12000,14000,16000,18000], "title": "Time (ms)"}},
       "y": {"field": "lo", "type": "quantitative", "scale": {"domain": [0, 1500], "nice": false}, "axis": {"orient": "left", "format": "d", "values": [0,500,1000,1500], "title": "EMG Data (mV)"}},
       "y2": {"field": "hi"},
       "color": {"datum": "EMG Signal", "scale": {"domain": ["EMG Signal"], "range": ["#0000ff"]}, "legend": {"title": null, "orient": "top-right", "offset": 4}}
     }},
    {"data": {"name": "spA"}, "mark": {"type": "rule", "strokeWidth": 1, "color": "#1a1aff"},
     "encoding": {
       "x": {"field": "t", "type": "quantitative", "axis": {"orient": "top", "labels": false, "title": null, "values": [0,2000,4000,6000,8000,10000,12000,14000,16000,18000]}},
       "y": {"field": "v", "type": "quantitative", "axis": {"orient": "right", "labels": false, "title": null, "values": [0,500,1000,1500]}},
       "y2": {"datum": 470}
     }}
  ],
  "resolve": {"axis": {"x": "independent", "y": "independent"}}
},
{
  "spacing": 23,
  "resolve": {"scale": {"color": "independent"}},
  "hconcat": [
    {
      "title": {"text": "b"},
      "width": 394,
      "height": 257,
      "layer": [
        {"data": {"name": "sig"}, "mark": {"type": "rule", "strokeWidth": 1.4},
         "encoding": {
           "x": {"field": "t", "type": "quantitative", "scale": {"domain": [0, 18000], "nice": false}, "axis": {"orient": "bottom", "format": "d", "values": [0,2000,4000,6000,8000,10000,12000,14000,16000,18000], "title": "Time (ms)"}},
           "y": {"field": "r", "type": "quantitative", "scale": {"domain": [-100, 600], "nice": false}, "axis": {"orient": "left", "format": "d", "values": [-100,0,100,200,300,400,500,600], "title": "EMG Data (mV)"}},
           "y2": {"datum": 0},
           "color": {"datum": "EMG signal rectified", "scale": {"domain": ["EMG signal rectified", "Envelope"], "range": ["#0000ff", "#ff0000"]}, "legend": {"title": null, "orient": "top-right", "offset": 5}}
         }},
        {"data": {"name": "spB"}, "mark": {"type": "rule", "strokeWidth": 1, "color": "#1a1aff"},
         "encoding": {
           "x": {"field": "t", "type": "quantitative", "axis": {"orient": "top", "labels": false, "title": null, "values": [0,2000,4000,6000,8000,10000,12000,14000,16000,18000]}},
           "y": {"field": "r", "type": "quantitative", "axis": {"orient": "right", "labels": false, "title": null, "values": [-100,0,100,200,300,400,500,600]}},
           "y2": {"datum": 0}
         }},
        {"data": {"name": "sig"}, "mark": {"type": "line", "strokeWidth": 1},
         "encoding": {
           "x": {"field": "t", "type": "quantitative", "axis": null},
           "y": {"field": "e", "type": "quantitative", "axis": null},
           "color": {"datum": "Envelope"}
         }}
      ],
      "resolve": {"axis": {"x": "independent", "y": "independent"}}
    },
    {
      "title": {"text": "c"},
      "width": 398,
      "height": 257,
      "layer": [
        {"data": {"name": "psd"}, "mark": {"type": "rule", "strokeWidth": 2.6, "color": "#0000ff"},
         "encoding": {
           "x": {"field": "f", "type": "quantitative", "scale": {"domain": [0, 500], "nice": false}, "axis": {"orient": "bottom", "format": "d", "values": [0,100,200,300,400,500], "title": "Frequency (Hz)"}},
           "y": {"field": "lo", "type": "quantitative", "scale": {"domain": [0, 7], "nice": false}, "axis": {"orient": "left", "format": "d", "labelPadding": 11, "values": [0,1,2,3,4,5,6,7], "title": "Power Spectral Density (mV²/Hz)"}},
           "y2": {"field": "hi"}
         }},
        {"data": {"name": "spC"}, "mark": {"type": "rule", "strokeWidth": 1, "color": "#1a1aff"},
         "encoding": {
           "x": {"field": "f", "type": "quantitative", "axis": {"orient": "top", "labels": false, "title": null, "values": [0,100,200,300,400,500]}},
           "y": {"field": "v", "type": "quantitative", "axis": {"orient": "right", "labels": false, "title": null, "values": [0,1,2,3,4,5,6,7]}},
           "y2": {"datum": 0}
         }},
        {"data": {"name": "cut"}, "mark": {"type": "rule", "strokeWidth": 2, "color": "#ff0000"},
         "encoding": {
           "x": {"field": "f", "type": "quantitative", "axis": null},
           "y": {"field": "v", "type": "quantitative", "axis": null},
           "y2": {"datum": 0}
         }}
      ],
      "resolve": {"axis": {"x": "independent", "y": "independent"}}
    }
  ]
}
]
}
